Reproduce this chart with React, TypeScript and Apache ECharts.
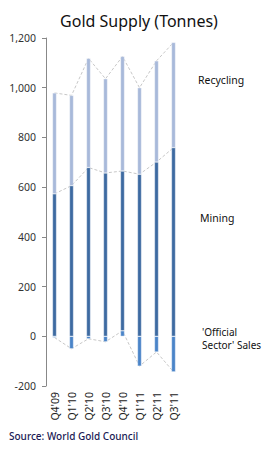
import React, { useEffect, useRef } from "react";
import * as echarts from "echarts";

const categories = ["Q4'09", "Q1'10", "Q2'10", "Q3'10", "Q4'10", "Q1'11", "Q2'11", "Q3'11"];
const officialSales = [-5, -50, -10, -22, 22, -120, -63, -143];
const mining = [573, 606, 679, 657, 643, 652, 701, 759];
const recycling = [406, 363, 439, 379, 461, 348, 407, 423];
const yTicks = { min: -200, max: 1200, interval: 200 };

export default function App() {
  const ref = useRef<HTMLDivElement>(null);
  useEffect(() => {
    if (!ref.current) return;
    const chart = echarts.init(ref.current, undefined, { renderer: "svg" });
    const miningTop = mining.map((m, i) => m + Math.max(officialSales[i], 0));
    const totalTop = miningTop.map((m, i) => m + recycling[i]);
    const font = "'Noto Sans', 'Open Sans', sans-serif";
    const lineStyle = { color: "#c8c8c8", width: 1, type: [3, 2] as any };
    const lineSeries = (data: number[]) => ({
      type: "line",
      data,
      symbol: "none",
      lineStyle,
      z: 1,
      silent: true,
    });
    chart.setOption({
      animation: false,
      title: {
        text: "Gold Supply (Tonnes)",
        left: 134,
        textAlign: "center",
        top: 8,
        textStyle: { fontFamily: font, fontSize: 16, fontWeight: "normal", color: "#111" },
      },
      grid: { left: 46, right: 81, top: 38, bottom: 63 },
      xAxis: {
        type: "category",
        data: categories,
        axisLine: { show: false },
        axisTick: { show: false },
        axisLabel: { rotate: 90, margin: 6, fontFamily: font, fontSize: 10.5, color: "#222" },
      },
      yAxis: {
        type: "value",
        min: yTicks.min,
        max: yTicks.max,
        interval: yTicks.interval,
        splitLine: { show: false },
        axisLine: { show: true, lineStyle: { color: "#888" } },
        axisTick: { show: true, length: 4, lineStyle: { color: "#888" } },
        axisLabel: {
          margin: 10,
          fontFamily: font,
          fontSize: 10.5,
          color: "#333",
          formatter: (v: number) => v.toLocaleString("en-US"),
        },
      },
      series: [
        {
          name: "'Official Sector' Sales",
          type: "bar",
          stack: "s",
          data: officialSales,
          barWidth: 4,
          itemStyle: { color: "#4A84C8", borderColor: "#fff", borderWidth: 0.4 },
          z: 2,
        },
        {
          name: "Mining",
          type: "bar",
          stack: "s",
          data: mining,
          barWidth: 4,
          itemStyle: { color: "#3D6AA1", borderColor: "#fff", borderWidth: 0.4 },
          z: 2,
        },
        {
          name: "Recycling",
          type: "bar",
          stack: "s",
          data: recycling,
          barWidth: 4,
          itemStyle: { color: "#A8B9DA", borderColor: "#fff", borderWidth: 0.4 },
          z: 2,
        },
        lineSeries(officialSales),
        lineSeries(miningTop),
        lineSeries(totalTop),
      ],
      graphic: [
        { type: "text", left: 198, top: 74, style: { text: "Recycling", font: `10.5px ${font}`, fill: "#111" } },
        { type: "text", left: 200, top: 212, style: { text: "Mining", font: `10.5px ${font}`, fill: "#111" } },
        { type: "text", left: 202, top: 327, style: { text: "'Official", font: `10px ${font}`, fill: "#111" } },
        { type: "text", left: 202, top: 340, style: { text: "Sector' Sales", font: `10px ${font}`, fill: "#111" } },
        {
          type: "text",
          left: 9,
          top: 431,
          style: { text: "Source: World Gold Council", font: `500 10px ${font}`, fill: "#1a1a55" },
        },
      ],
    });
    return () => chart.dispose();
  }, []);
  return <div ref={ref} style={{ width: 263, height: 449, position: "absolute", left: 0, top: 0 }} />;
}
